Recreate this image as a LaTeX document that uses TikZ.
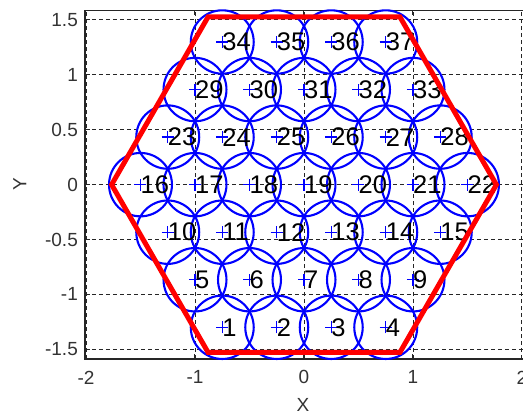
\documentclass[tikz,border=0pt]{standalone}
\usepackage{fontspec}
\setmainfont{Liberation Sans}
\definecolor{axgray}{RGB}{38,38,38}
\definecolor{mblue}{RGB}{0,0,255}
\definecolor{mred}{RGB}{255,0,0}
\begin{document}
\begin{tikzpicture}[x=109pt,y=109.8pt,
  gridline/.style={black!85,line width=0.9pt,dash pattern=on 4pt off 3pt},
  axisline/.style={axgray,line width=1.4pt},
  ticktext/.style={black!80,inner sep=0pt,font=\fontsize{19}{22}\selectfont},
  cellcircle/.style={mblue,line width=2.1pt},
  plusmark/.style={mblue,line width=1.3pt},
  celllabel/.style={black,inner sep=0pt,anchor=west,font=\fontsize{25.5}{30}\selectfont},
  hexline/.style={mred,line width=5pt,line join=miter}]
\useasboundingbox (-2.78899,-2.08880) rectangle (2.00917,1.68169);
% grid
\foreach \gx in {-1.995,-1,0,1,1.997}
  \draw[gridline] (\gx,-1.588) -- (\gx,1.588);
\foreach \gy in {-1.5,-1,-0.5,0,0.5,1,1.5}
  \draw[gridline] (-2.01,\gy) -- (2.01,\gy);
% axes box
\draw[axisline] (-2.01,-1.588) rectangle (2.012,1.588);
% ticks
\foreach \gx in {-1,0,1}{
  \draw[axisline,line width=1pt] (\gx,-1.588) -- ++(0,0.045);
  \draw[axisline,line width=1pt] (\gx,1.588) -- ++(0,-0.045);}
\foreach \gy in {-1.5,-1,-0.5,0,0.5,1,1.5}
  \draw[axisline,line width=1pt] (-2.01,\gy) -- ++(0.045,0);
% tick labels
\foreach \gx/\lab in {-2/-2,-1/-1,0/0,1/1,2/2}
  \node[ticktext] (xt\gx) at (\gx,-1.756) {\lab};
\foreach \gy/\lab in {-1.5/-1.5,-1/-1,-0.5/-0.5,0/0,0.5/0.5,1/1,1.5/1.5}
  \node[ticktext,anchor=east] (yt\gy) at (-2.073,\gy) {\lab};
\node[ticktext] (xlab) at (-0.01,-2.005) {X};
\node[ticktext,rotate=90] (ylab) at (-2.606,0) {Y};
% circles
\foreach \k/\n/\f in {-3/4/1,-2/5/5,-1/6/10,0/7/16,1/6/23,2/5/29,3/4/34}{
  \foreach \i in {1,...,\n}{
    \pgfmathsetmacro\xx{-(\n-1)*0.25+(\i-1)*0.5}
    \pgfmathsetmacro\yy{\k*0.4330127}
    \pgfmathtruncatemacro\num{\f+\i-1}
    \coordinate (c\num) at (\xx,\yy);
    \draw[cellcircle] (c\num) circle[radius=0.288675];
  }}
\foreach \num in {1,...,37}{
  \draw[plusmark] (c\num) +(-6pt,0) -- +(6pt,0);
  \draw[plusmark] (c\num) +(0,-6pt) -- +(0,6pt);
  \node[celllabel] (n\num) at (c\num) {\num};
}
% hexagon
\coordinate (h1) at (-1.765,0);
\coordinate (h2) at (-0.88,1.528);
\coordinate (h3) at (0.88,1.528);
\coordinate (h4) at (1.765,0);
\coordinate (h5) at (0.88,-1.528);
\coordinate (h6) at (-0.88,-1.528);
\draw[hexline] (h1) -- (h2) -- (h3) -- (h4) -- (h5) -- (h6) -- cycle;
\end{tikzpicture}
\end{document}
